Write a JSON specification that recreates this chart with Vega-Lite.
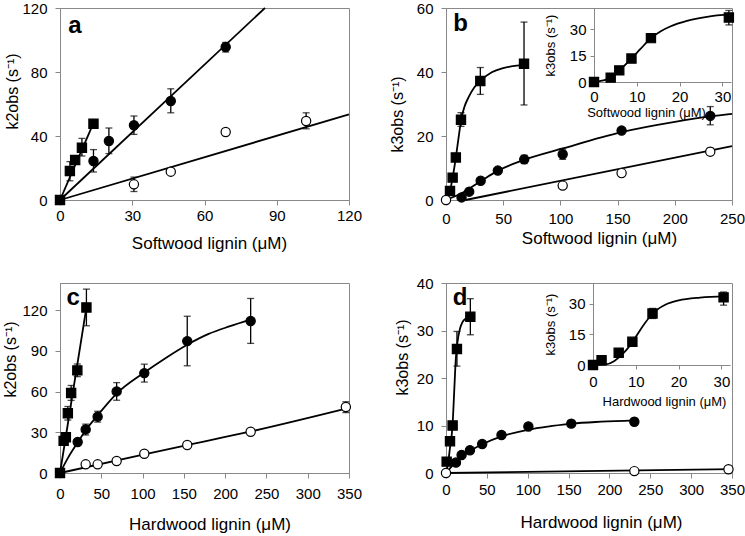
{
"$schema": "https://vega.github.io/schema/vega-lite/v6.json",
"padding": {"left": 1, "top": 0, "right": 0, "bottom": 0},
"background": "white",
"config": {
  "font": "Liberation Sans",
  "view": {"stroke": "#888888", "strokeWidth": 1},
  "axis": {"grid": false, "domainColor": "#888888", "tickColor": "#888888", "tickSize": 5, "labelFontSize": 15, "labelColor": "#000000", "titleFontSize": 17, "titleFontWeight": "normal", "titleColor": "#000000", "labelFlush": false, "labelOverlap": false, "titleBaseline": "middle"},
  "axisY": {"labelPadding": 8, "titleFontSize": 16}
},
"datasets": {
  "pts": [
    {"p":"a","s":"oc","x":30.7,"y":9.8,"lo":5.3,"hi":14.3},
    {"p":"a","s":"oc","x":46,"y":17.7},
    {"p":"a","s":"oc","x":68.8,"y":42.5},
    {"p":"a","s":"oc","x":102.2,"y":49.4,"lo":44.5,"hi":54.5},
    {"p":"a","s":"fc","x":13.9,"y":24.4,"lo":17.5,"hi":31.5},
    {"p":"a","s":"fc","x":20.3,"y":36.9,"lo":29,"hi":45},
    {"p":"a","s":"fc","x":30.7,"y":46.7,"lo":41,"hi":52.5},
    {"p":"a","s":"fc","x":46,"y":61.9,"lo":54.5,"hi":69.5},
    {"p":"a","s":"fc","x":68.8,"y":95.6,"lo":92.5,"hi":98.5},
    {"p":"a","s":"sq","x":0,"y":0},
    {"p":"a","s":"sq","x":4.1,"y":18.1,"lo":12,"hi":24},
    {"p":"a","s":"sq","x":6.3,"y":25},
    {"p":"a","s":"sq","x":9.1,"y":32.7,"lo":27.5,"hi":38.5},
    {"p":"a","s":"sq","x":13.9,"y":47.7},

    {"p":"b","s":"fc","x":13.6,"y":0.8},
    {"p":"b","s":"fc","x":20.3,"y":2.6},
    {"p":"b","s":"fc","x":30.3,"y":6},
    {"p":"b","s":"fc","x":45.3,"y":9.2},
    {"p":"b","s":"fc","x":68.4,"y":12.7,"lo":11.4,"hi":14},
    {"p":"b","s":"fc","x":102,"y":14.3,"lo":12.7,"hi":15.9},
    {"p":"b","s":"fc","x":153.5,"y":21.7},
    {"p":"b","s":"fc","x":231,"y":26.3,"lo":23.5,"hi":29.2},
    {"p":"b","s":"sq","x":3.5,"y":2.8},
    {"p":"b","s":"sq","x":5.8,"y":7},
    {"p":"b","s":"sq","x":8.6,"y":13.3},
    {"p":"b","s":"sq","x":13.1,"y":25.1,"lo":23,"hi":27.3},
    {"p":"b","s":"sq","x":30,"y":37.2,"lo":33,"hi":41.4},
    {"p":"b","s":"sq","x":68.2,"y":42.6,"lo":29.7,"hi":55.6},
    {"p":"b","s":"oc","x":0,"y":0},
    {"p":"b","s":"oc","x":102,"y":4.5},
    {"p":"b","s":"oc","x":153.5,"y":8.4},
    {"p":"b","s":"oc","x":231,"y":15.1,"lo":14,"hi":16.2},

    {"p":"bi","s":"sq","x":0,"y":0},
    {"p":"bi","s":"sq","x":3.9,"y":2.5},
    {"p":"bi","s":"sq","x":5.9,"y":6.6},
    {"p":"bi","s":"sq","x":8.75,"y":13.3},
    {"p":"bi","s":"sq","x":13.3,"y":24.9},
    {"p":"bi","s":"sq","x":31.5,"y":36.6,"lo":32.4,"hi":40.6},

    {"p":"c","s":"oc","x":31.1,"y":6.4},
    {"p":"c","s":"oc","x":45.6,"y":6.4},
    {"p":"c","s":"oc","x":68.6,"y":8.8},
    {"p":"c","s":"oc","x":102.1,"y":14.2},
    {"p":"c","s":"oc","x":154.1,"y":20.6},
    {"p":"c","s":"oc","x":230.9,"y":30.4},
    {"p":"c","s":"oc","x":346.2,"y":48.6,"lo":44.5,"hi":52.5},
    {"p":"c","s":"fc","x":21.4,"y":22.8},
    {"p":"c","s":"fc","x":31.1,"y":32.1,"lo":28,"hi":36},
    {"p":"c","s":"fc","x":45.6,"y":41.5,"lo":37.5,"hi":45.5},
    {"p":"c","s":"fc","x":68.6,"y":60.1,"lo":53.6,"hi":66.6},
    {"p":"c","s":"fc","x":102.1,"y":73.6,"lo":67,"hi":80.2},
    {"p":"c","s":"fc","x":154.1,"y":97.2,"lo":79,"hi":115.5},
    {"p":"c","s":"fc","x":230.9,"y":112,"lo":95.5,"hi":128.6},
    {"p":"c","s":"sq","x":0,"y":0},
    {"p":"c","s":"sq","x":4.4,"y":23.7},
    {"p":"c","s":"sq","x":7.1,"y":26.4},
    {"p":"c","s":"sq","x":9.5,"y":44,"lo":39,"hi":49},
    {"p":"c","s":"sq","x":13.5,"y":59,"lo":53.5,"hi":64.5},
    {"p":"c","s":"sq","x":21,"y":75.6,"lo":71,"hi":80.3},
    {"p":"c","s":"sq","x":32,"y":122,"lo":108.5,"hi":135.5},

    {"p":"d","s":"fc","x":12.2,"y":2.2},
    {"p":"d","s":"fc","x":19.1,"y":3.8},
    {"p":"d","s":"fc","x":29.3,"y":4.8},
    {"p":"d","s":"fc","x":44.3,"y":6.1},
    {"p":"d","s":"fc","x":67.9,"y":8},
    {"p":"d","s":"fc","x":100.8,"y":9.8},
    {"p":"d","s":"fc","x":153.3,"y":10.4,"lo":9.7,"hi":11.1},
    {"p":"d","s":"fc","x":230.5,"y":10.8,"lo":10.1,"hi":11.5},
    {"p":"d","s":"sq","x":0.8,"y":2.4},
    {"p":"d","s":"sq","x":4.9,"y":6.7},
    {"p":"d","s":"sq","x":8.1,"y":10},
    {"p":"d","s":"sq","x":13.4,"y":26.1,"lo":22.5,"hi":29.8},
    {"p":"d","s":"sq","x":29.8,"y":32.9,"lo":29.1,"hi":36.7},
    {"p":"d","s":"oc","x":0,"y":0},
    {"p":"d","s":"oc","x":230.5,"y":0.4},
    {"p":"d","s":"oc","x":345.7,"y":0.8},

    {"p":"di","s":"sq","x":0,"y":0},
    {"p":"di","s":"sq","x":2,"y":2.3},
    {"p":"di","s":"sq","x":6,"y":6},
    {"p":"di","s":"sq","x":9.2,"y":11.3},
    {"p":"di","s":"sq","x":13.9,"y":25.1,"lo":22.7,"hi":27.6},
    {"p":"di","s":"sq","x":30.5,"y":33,"lo":29.2,"hi":35.6}
  ],
  "fit": [
    {"p":"a","s":"sq","x":0,"y":0},{"p":"a","s":"sq","x":13.9,"y":48},
    {"p":"a","s":"fc","x":0,"y":0},{"p":"a","s":"fc","x":85.1,"y":120},
    {"p":"a","s":"oc","x":0,"y":0},{"p":"a","s":"oc","x":120,"y":53.5},

    {"p":"b","s":"sq","x":0,"y":0},{"p":"b","s":"sq","x":3.5,"y":2.8},{"p":"b","s":"sq","x":5.8,"y":7},{"p":"b","s":"sq","x":8.7,"y":13.5},{"p":"b","s":"sq","x":11,"y":19.5},{"p":"b","s":"sq","x":13.5,"y":25.5},{"p":"b","s":"sq","x":16,"y":29},{"p":"b","s":"sq","x":20,"y":32.3},{"p":"b","s":"sq","x":25,"y":35.3},{"p":"b","s":"sq","x":30,"y":37.2},{"p":"b","s":"sq","x":40,"y":39.9},{"p":"b","s":"sq","x":50,"y":41.2},{"p":"b","s":"sq","x":60,"y":41.9},{"p":"b","s":"sq","x":70,"y":42.3},
    {"p":"b","s":"fc","x":0,"y":0},{"p":"b","s":"fc","x":13.6,"y":2.1},{"p":"b","s":"fc","x":30,"y":5.8},{"p":"b","s":"fc","x":45,"y":9.1},{"p":"b","s":"fc","x":68,"y":12.5},{"p":"b","s":"fc","x":102,"y":16.1},{"p":"b","s":"fc","x":153.5,"y":21.2},{"p":"b","s":"fc","x":200,"y":24.4},{"p":"b","s":"fc","x":231,"y":26.1},{"p":"b","s":"fc","x":250,"y":26.9},
    {"p":"b","s":"oc","x":17,"y":0},{"p":"b","s":"oc","x":250,"y":16.8},

    {"p":"bi","s":"sq","x":0,"y":0},{"p":"bi","s":"sq","x":2.2,"y":0.9},{"p":"bi","s":"sq","x":3.9,"y":2.5},{"p":"bi","s":"sq","x":5.9,"y":6.6},{"p":"bi","s":"sq","x":8.75,"y":13.3},{"p":"bi","s":"sq","x":10.8,"y":18.6},{"p":"bi","s":"sq","x":13.3,"y":24.9},{"p":"bi","s":"sq","x":15.5,"y":28.7},{"p":"bi","s":"sq","x":17.8,"y":31.5},{"p":"bi","s":"sq","x":21.7,"y":34.7},{"p":"bi","s":"sq","x":26.4,"y":37},{"p":"bi","s":"sq","x":32,"y":38.5},

    {"p":"c","s":"sq","x":0,"y":0},{"p":"c","s":"sq","x":32,"y":122},
    {"p":"c","s":"fc","x":0,"y":0},{"p":"c","s":"fc","x":10,"y":11.5},{"p":"c","s":"fc","x":21.4,"y":22.5},{"p":"c","s":"fc","x":31.1,"y":31.5},{"p":"c","s":"fc","x":45.6,"y":42.5},{"p":"c","s":"fc","x":68.6,"y":58.5},{"p":"c","s":"fc","x":102.1,"y":74},{"p":"c","s":"fc","x":130,"y":85.5},{"p":"c","s":"fc","x":154.1,"y":94.5},{"p":"c","s":"fc","x":180,"y":102.5},{"p":"c","s":"fc","x":205,"y":108},{"p":"c","s":"fc","x":230.9,"y":113},
    {"p":"c","s":"oc","x":0,"y":0},{"p":"c","s":"oc","x":102.1,"y":13.8},{"p":"c","s":"oc","x":154.1,"y":20.6},{"p":"c","s":"oc","x":230.9,"y":30.6},{"p":"c","s":"oc","x":350,"y":48},

    {"p":"d","s":"sq","x":0,"y":0},{"p":"d","s":"sq","x":2,"y":1.5},{"p":"d","s":"sq","x":5,"y":5.5},{"p":"d","s":"sq","x":8,"y":10},{"p":"d","s":"sq","x":10,"y":17},{"p":"d","s":"sq","x":12,"y":24},{"p":"d","s":"sq","x":14,"y":27.5},{"p":"d","s":"sq","x":17,"y":30.3},{"p":"d","s":"sq","x":20,"y":31.7},{"p":"d","s":"sq","x":25,"y":32.6},{"p":"d","s":"sq","x":30,"y":33.1},
    {"p":"d","s":"fc","x":0,"y":0},{"p":"d","s":"fc","x":10,"y":1.9},{"p":"d","s":"fc","x":20,"y":3.5},{"p":"d","s":"fc","x":30,"y":4.7},{"p":"d","s":"fc","x":45,"y":6.1},{"p":"d","s":"fc","x":68,"y":7.7},{"p":"d","s":"fc","x":100,"y":9.1},{"p":"d","s":"fc","x":130,"y":9.9},{"p":"d","s":"fc","x":154,"y":10.4},{"p":"d","s":"fc","x":190,"y":10.8},{"p":"d","s":"fc","x":231,"y":11.1},
    {"p":"d","s":"oc","x":0,"y":0},{"p":"d","s":"oc","x":350,"y":0.8},

    {"p":"di","s":"sq","x":0,"y":0},{"p":"di","s":"sq","x":3,"y":0.3},{"p":"di","s":"sq","x":5,"y":2},{"p":"di","s":"sq","x":7,"y":5.5},{"p":"di","s":"sq","x":9,"y":10.5},{"p":"di","s":"sq","x":11,"y":17},{"p":"di","s":"sq","x":13,"y":22.8},{"p":"di","s":"sq","x":15,"y":27},{"p":"di","s":"sq","x":17,"y":29.5},{"p":"di","s":"sq","x":20,"y":31.5},{"p":"di","s":"sq","x":25,"y":32.9},{"p":"di","s":"sq","x":31,"y":33.5}
  ]
},
"bounds": "flush",
"columns": 2,
"spacing": {"row": 83, "column": 97},
"concat": [
  {
    "width": 289, "height": 192,
    "layer": [
      {"data": {"name": "fit"}, "transform": [{"filter": "datum.p=='a'"}],
       "mark": {"type": "line", "color": "black", "strokeWidth": 1.8, "interpolate": "monotone"},
       "encoding": {
         "x": {"field": "x", "type": "quantitative", "scale": {"domain": [0, 120], "nice": false}, "axis": {"values": [0, 30, 60, 90, 120], "title": "Softwood lignin (μM)", "titleX": 149, "titleY": 43, "labelPadding": 3}},
         "y": {"field": "y", "type": "quantitative", "scale": {"domain": [0, 120], "nice": false}, "axis": {"values": [0, 40, 80, 120], "title": "k2obs (s⁻¹)", "titleX": -48, "titleY": 83}},
         "detail": {"field": "s"}}},
      {"data": {"name": "pts"}, "transform": [{"filter": "datum.p=='a' && isValid(datum.lo)"}],
       "mark": {"type": "errorbar", "ticks": true, "color": "black", "thickness": 1.3, "size": 7},
       "encoding": {
         "x": {"field": "x", "type": "quantitative", "scale": {"domain": [0, 120], "nice": false}, "axis": {"values": [0, 30, 60, 90, 120], "title": "Softwood lignin (μM)", "titleX": 149, "titleY": 43, "labelPadding": 3}},
         "y": {"field": "lo", "type": "quantitative", "scale": {"domain": [0, 120], "nice": false}, "axis": {"values": [0, 40, 80, 120], "title": "k2obs (s⁻¹)", "titleX": -48, "titleY": 83}},
         "y2": {"field": "hi"}}},
      {"data": {"name": "pts"}, "transform": [{"filter": "datum.p=='a'"}],
       "mark": {"type": "point", "filled": true, "stroke": "black", "strokeWidth": 1.2, "size": 85, "opacity": 1},
       "encoding": {
         "x": {"field": "x", "type": "quantitative", "scale": {"domain": [0, 120], "nice": false}, "axis": {"values": [0, 30, 60, 90, 120], "title": "Softwood lignin (μM)", "titleX": 149, "titleY": 43, "labelPadding": 3}},
         "y": {"field": "y", "type": "quantitative", "scale": {"domain": [0, 120], "nice": false}, "axis": {"values": [0, 40, 80, 120], "title": "k2obs (s⁻¹)", "titleX": -48, "titleY": 83}},
         "shape": {"field": "s", "type": "nominal", "scale": {"domain": ["sq", "fc", "oc"], "range": ["square", "circle", "circle"]}, "legend": null},
         "fill": {"field": "s", "type": "nominal", "scale": {"domain": ["sq", "fc", "oc"], "range": ["#000000", "#000000", "#ffffff"]}, "legend": null}}},
      {"data": {"values": [{}]},
       "mark": {"type": "text", "text": "a", "fontSize": 24, "fontWeight": "bold", "align": "center", "baseline": "middle", "color": "black"},
       "encoding": {
         "x": {"datum": 6.2, "type": "quantitative", "scale": {"domain": [0, 120], "nice": false}},
         "y": {"datum": 108.8, "type": "quantitative", "scale": {"domain": [0, 120], "nice": false}}}}
    ]
  },
  {
    "width": 286, "height": 192,
    "resolve": {"scale": {"x": "independent", "y": "independent"}, "axis": {"x": "independent", "y": "independent"}},
    "layer": [
      {"layer": [
        {"data": {"name": "fit"}, "transform": [{"filter": "datum.p=='b'"}],
         "mark": {"type": "line", "color": "black", "strokeWidth": 1.8, "interpolate": "monotone"},
         "encoding": {
           "x": {"field": "x", "type": "quantitative", "scale": {"domain": [0, 250], "nice": false}, "axis": {"orient": "bottom", "values": [0, 50, 100, 150, 200, 250], "title": "Softwood lignin (μM)", "titleX": 153, "titleY": 38, "labelPadding": 6}},
           "y": {"field": "y", "type": "quantitative", "scale": {"domain": [0, 60], "nice": false}, "axis": {"orient": "left", "values": [0, 20, 40, 60], "title": "k3obs (s⁻¹)", "titleX": -49, "titleY": 106}},
           "detail": {"field": "s"}}},
        {"data": {"name": "pts"}, "transform": [{"filter": "datum.p=='b' && isValid(datum.lo)"}],
         "mark": {"type": "errorbar", "ticks": true, "color": "black", "thickness": 1.3, "size": 7},
         "encoding": {
           "x": {"field": "x", "type": "quantitative", "scale": {"domain": [0, 250], "nice": false}, "axis": {"orient": "bottom", "values": [0, 50, 100, 150, 200, 250], "title": "Softwood lignin (μM)", "titleX": 153, "titleY": 38, "labelPadding": 6}},
           "y": {"field": "lo", "type": "quantitative", "scale": {"domain": [0, 60], "nice": false}, "axis": {"orient": "left", "values": [0, 20, 40, 60], "title": "k3obs (s⁻¹)", "titleX": -49, "titleY": 106}},
           "y2": {"field": "hi"}}},
        {"data": {"name": "pts"}, "transform": [{"filter": "datum.p=='b'"}],
         "mark": {"type": "point", "filled": true, "stroke": "black", "strokeWidth": 1.2, "size": 85, "opacity": 1},
         "encoding": {
           "x": {"field": "x", "type": "quantitative", "scale": {"domain": [0, 250], "nice": false}, "axis": {"orient": "bottom", "values": [0, 50, 100, 150, 200, 250], "title": "Softwood lignin (μM)", "titleX": 153, "titleY": 38, "labelPadding": 6}},
           "y": {"field": "y", "type": "quantitative", "scale": {"domain": [0, 60], "nice": false}, "axis": {"orient": "left", "values": [0, 20, 40, 60], "title": "k3obs (s⁻¹)", "titleX": -49, "titleY": 106}},
           "shape": {"field": "s", "type": "nominal", "scale": {"domain": ["sq", "fc", "oc"], "range": ["square", "circle", "circle"]}, "legend": null},
           "fill": {"field": "s", "type": "nominal", "scale": {"domain": ["sq", "fc", "oc"], "range": ["#000000", "#000000", "#ffffff"]}, "legend": null}}},
        {"data": {"values": [{}]},
         "mark": {"type": "text", "text": "b", "fontSize": 24, "fontWeight": "bold", "align": "center", "baseline": "middle", "color": "black"},
         "encoding": {
           "x": {"datum": 12.8, "type": "quantitative", "scale": {"domain": [0, 250], "nice": false}},
           "y": {"datum": 55.1, "type": "quantitative", "scale": {"domain": [0, 60], "nice": false}}}}
      ]},
      {"layer": [
        {"data": {"name": "fit"}, "transform": [{"filter": "datum.p=='bi'"}],
         "mark": {"type": "line", "color": "black", "strokeWidth": 1.8, "interpolate": "monotone"},
         "encoding": {
           "x": {"field": "x", "type": "quantitative", "scale": {"domain": [0, 32], "nice": false, "range": [148, 285]}, "axis": {"orient": "bottom", "offset": -118, "values": [0, 10, 20, 30], "title": "Softwood lignin (μM)", "titleFontSize": 13, "titleX": 200, "titleY": 30, "labelPadding": 3, "tickSize": 4}},
           "y": {"field": "y", "type": "quantitative", "scale": {"domain": [0, 42], "nice": false, "range": [74, 0]}, "axis": {"orient": "left", "offset": -148, "values": [0, 15, 30], "title": "k3obs (s⁻¹)", "titleFontSize": 13, "titleX": -44, "labelPadding": 4, "tickSize": 4}},
           "detail": {"field": "s"}}},
        {"data": {"name": "pts"}, "transform": [{"filter": "datum.p=='bi' && isValid(datum.lo)"}],
         "mark": {"type": "errorbar", "ticks": true, "color": "black", "thickness": 1.3, "size": 7},
         "encoding": {
           "x": {"field": "x", "type": "quantitative", "scale": {"domain": [0, 32], "nice": false, "range": [148, 285]}, "axis": {"orient": "bottom", "offset": -118, "values": [0, 10, 20, 30], "title": "Softwood lignin (μM)", "titleFontSize": 13, "titleX": 200, "titleY": 30, "labelPadding": 3, "tickSize": 4}},
           "y": {"field": "lo", "type": "quantitative", "scale": {"domain": [0, 42], "nice": false, "range": [74, 0]}, "axis": {"orient": "left", "offset": -148, "values": [0, 15, 30], "title": "k3obs (s⁻¹)", "titleFontSize": 13, "titleX": -44, "labelPadding": 4, "tickSize": 4}},
           "y2": {"field": "hi"}}},
        {"data": {"name": "pts"}, "transform": [{"filter": "datum.p=='bi'"}],
         "mark": {"type": "point", "filled": true, "stroke": "black", "strokeWidth": 1.2, "size": 85, "opacity": 1},
         "encoding": {
           "x": {"field": "x", "type": "quantitative", "scale": {"domain": [0, 32], "nice": false, "range": [148, 285]}, "axis": {"orient": "bottom", "offset": -118, "values": [0, 10, 20, 30], "title": "Softwood lignin (μM)", "titleFontSize": 13, "titleX": 200, "titleY": 30, "labelPadding": 3, "tickSize": 4}},
           "y": {"field": "y", "type": "quantitative", "scale": {"domain": [0, 42], "nice": false, "range": [74, 0]}, "axis": {"orient": "left", "offset": -148, "values": [0, 15, 30], "title": "k3obs (s⁻¹)", "titleFontSize": 13, "titleX": -44, "labelPadding": 4, "tickSize": 4}},
           "shape": {"field": "s", "type": "nominal", "scale": {"domain": ["sq", "fc", "oc"], "range": ["square", "circle", "circle"]}, "legend": null},
           "fill": {"field": "s", "type": "nominal", "scale": {"domain": ["sq", "fc", "oc"], "range": ["#000000", "#000000", "#ffffff"]}, "legend": null}}}
      ]}
    ]
  },
  {
    "width": 289, "height": 190,
    "layer": [
      {"data": {"name": "fit"}, "transform": [{"filter": "datum.p=='c'"}],
       "mark": {"type": "line", "color": "black", "strokeWidth": 1.8, "interpolate": "monotone"},
       "encoding": {
         "x": {"field": "x", "type": "quantitative", "scale": {"domain": [0, 350], "nice": false}, "axis": {"values": [0, 50, 100, 150, 200, 250, 300, 350], "title": "Hardwood lignin (μM)", "titleX": 149.5, "titleY": 51, "labelPadding": 8}},
         "y": {"field": "y", "type": "quantitative", "scale": {"domain": [0, 140], "nice": false}, "axis": {"values": [0, 30, 60, 90, 120], "title": "k2obs (s⁻¹)", "titleX": -50, "titleY": 76}},
         "detail": {"field": "s"}}},
      {"data": {"name": "pts"}, "transform": [{"filter": "datum.p=='c' && isValid(datum.lo)"}],
       "mark": {"type": "errorbar", "ticks": true, "color": "black", "thickness": 1.3, "size": 7},
       "encoding": {
         "x": {"field": "x", "type": "quantitative", "scale": {"domain": [0, 350], "nice": false}, "axis": {"values": [0, 50, 100, 150, 200, 250, 300, 350], "title": "Hardwood lignin (μM)", "titleX": 149.5, "titleY": 51, "labelPadding": 8}},
         "y": {"field": "lo", "type": "quantitative", "scale": {"domain": [0, 140], "nice": false}, "axis": {"values": [0, 30, 60, 90, 120], "title": "k2obs (s⁻¹)", "titleX": -50, "titleY": 76}},
         "y2": {"field": "hi"}}},
      {"data": {"name": "pts"}, "transform": [{"filter": "datum.p=='c'"}],
       "mark": {"type": "point", "filled": true, "stroke": "black", "strokeWidth": 1.2, "size": 85, "opacity": 1},
       "encoding": {
         "x": {"field": "x", "type": "quantitative", "scale": {"domain": [0, 350], "nice": false}, "axis": {"values": [0, 50, 100, 150, 200, 250, 300, 350], "title": "Hardwood lignin (μM)", "titleX": 149.5, "titleY": 51, "labelPadding": 8}},
         "y": {"field": "y", "type": "quantitative", "scale": {"domain": [0, 140], "nice": false}, "axis": {"values": [0, 30, 60, 90, 120], "title": "k2obs (s⁻¹)", "titleX": -50, "titleY": 76}},
         "shape": {"field": "s", "type": "nominal", "scale": {"domain": ["sq", "fc", "oc"], "range": ["square", "circle", "circle"]}, "legend": null},
         "fill": {"field": "s", "type": "nominal", "scale": {"domain": ["sq", "fc", "oc"], "range": ["#000000", "#000000", "#ffffff"]}, "legend": null}}},
      {"data": {"values": [{}]},
       "mark": {"type": "text", "text": "c", "fontSize": 24, "fontWeight": "bold", "align": "center", "baseline": "middle", "color": "black"},
       "encoding": {
         "x": {"datum": 16.1, "type": "quantitative", "scale": {"domain": [0, 350], "nice": false}},
         "y": {"datum": 128.6, "type": "quantitative", "scale": {"domain": [0, 140], "nice": false}}}}
    ]
  },
  {
    "width": 286, "height": 190,
    "resolve": {"scale": {"x": "independent", "y": "independent"}, "axis": {"x": "independent", "y": "independent"}},
    "layer": [
      {"layer": [
        {"data": {"name": "fit"}, "transform": [{"filter": "datum.p=='d'"}],
         "mark": {"type": "line", "color": "black", "strokeWidth": 1.8, "interpolate": "monotone"},
         "encoding": {
           "x": {"field": "x", "type": "quantitative", "scale": {"domain": [0, 350], "nice": false}, "axis": {"orient": "bottom", "values": [0, 50, 100, 150, 200, 250, 300, 350], "title": "Hardwood lignin (μM)", "titleX": 155, "titleY": 49, "labelPadding": 4.5}},
           "y": {"field": "y", "type": "quantitative", "scale": {"domain": [0, 40], "nice": false}, "axis": {"orient": "left", "values": [0, 10, 20, 30, 40], "title": "k3obs (s⁻¹)", "titleX": -44, "titleY": 74}},
           "detail": {"field": "s"}}},
        {"data": {"name": "pts"}, "transform": [{"filter": "datum.p=='d' && isValid(datum.lo)"}],
         "mark": {"type": "errorbar", "ticks": true, "color": "black", "thickness": 1.3, "size": 7},
         "encoding": {
           "x": {"field": "x", "type": "quantitative", "scale": {"domain": [0, 350], "nice": false}, "axis": {"orient": "bottom", "values": [0, 50, 100, 150, 200, 250, 300, 350], "title": "Hardwood lignin (μM)", "titleX": 155, "titleY": 49, "labelPadding": 4.5}},
           "y": {"field": "lo", "type": "quantitative", "scale": {"domain": [0, 40], "nice": false}, "axis": {"orient": "left", "values": [0, 10, 20, 30, 40], "title": "k3obs (s⁻¹)", "titleX": -44, "titleY": 74}},
           "y2": {"field": "hi"}}},
        {"data": {"name": "pts"}, "transform": [{"filter": "datum.p=='d'"}],
         "mark": {"type": "point", "filled": true, "stroke": "black", "strokeWidth": 1.2, "size": 85, "opacity": 1},
         "encoding": {
           "x": {"field": "x", "type": "quantitative", "scale": {"domain": [0, 350], "nice": false}, "axis": {"orient": "bottom", "values": [0, 50, 100, 150, 200, 250, 300, 350], "title": "Hardwood lignin (μM)", "titleX": 155, "titleY": 49, "labelPadding": 4.5}},
           "y": {"field": "y", "type": "quantitative", "scale": {"domain": [0, 40], "nice": false}, "axis": {"orient": "left", "values": [0, 10, 20, 30, 40], "title": "k3obs (s⁻¹)", "titleX": -44, "titleY": 74}},
           "shape": {"field": "s", "type": "nominal", "scale": {"domain": ["sq", "fc", "oc"], "range": ["square", "circle", "circle"]}, "legend": null},
           "fill": {"field": "s", "type": "nominal", "scale": {"domain": ["sq", "fc", "oc"], "range": ["#000000", "#000000", "#ffffff"]}, "legend": null}}},
        {"data": {"values": [{}]},
         "mark": {"type": "text", "text": "d", "fontSize": 24, "fontWeight": "bold", "align": "center", "baseline": "middle", "color": "black"},
         "encoding": {
           "x": {"datum": 17.1, "type": "quantitative", "scale": {"domain": [0, 350], "nice": false}},
           "y": {"datum": 36.8, "type": "quantitative", "scale": {"domain": [0, 40], "nice": false}}}}
      ]},
      {"layer": [
        {"data": {"name": "fit"}, "transform": [{"filter": "datum.p=='di'"}],
         "mark": {"type": "line", "color": "black", "strokeWidth": 1.8, "interpolate": "monotone"},
         "encoding": {
           "x": {"field": "x", "type": "quantitative", "scale": {"domain": [0, 32], "nice": false, "range": [147, 284]}, "axis": {"orient": "bottom", "offset": -108, "values": [0, 10, 20, 30], "title": "Hardwood lignin (μM)", "titleFontSize": 13, "titleX": 218, "titleY": 36, "labelPadding": 5, "tickSize": 4}},
           "y": {"field": "y", "type": "quantitative", "scale": {"domain": [0, 40], "nice": false, "range": [82, 0]}, "axis": {"orient": "left", "offset": -147, "values": [0, 15, 30], "title": "k3obs (s⁻¹)", "titleFontSize": 13, "titleX": -43, "labelPadding": 4, "tickSize": 4}},
           "detail": {"field": "s"}}},
        {"data": {"name": "pts"}, "transform": [{"filter": "datum.p=='di' && isValid(datum.lo)"}],
         "mark": {"type": "errorbar", "ticks": true, "color": "black", "thickness": 1.3, "size": 7},
         "encoding": {
           "x": {"field": "x", "type": "quantitative", "scale": {"domain": [0, 32], "nice": false, "range": [147, 284]}, "axis": {"orient": "bottom", "offset": -108, "values": [0, 10, 20, 30], "title": "Hardwood lignin (μM)", "titleFontSize": 13, "titleX": 218, "titleY": 36, "labelPadding": 5, "tickSize": 4}},
           "y": {"field": "lo", "type": "quantitative", "scale": {"domain": [0, 40], "nice": false, "range": [82, 0]}, "axis": {"orient": "left", "offset": -147, "values": [0, 15, 30], "title": "k3obs (s⁻¹)", "titleFontSize": 13, "titleX": -43, "labelPadding": 4, "tickSize": 4}},
           "y2": {"field": "hi"}}},
        {"data": {"name": "pts"}, "transform": [{"filter": "datum.p=='di'"}],
         "mark": {"type": "point", "filled": true, "stroke": "black", "strokeWidth": 1.2, "size": 85, "opacity": 1},
         "encoding": {
           "x": {"field": "x", "type": "quantitative", "scale": {"domain": [0, 32], "nice": false, "range": [147, 284]}, "axis": {"orient": "bottom", "offset": -108, "values": [0, 10, 20, 30], "title": "Hardwood lignin (μM)", "titleFontSize": 13, "titleX": 218, "titleY": 36, "labelPadding": 5, "tickSize": 4}},
           "y": {"field": "y", "type": "quantitative", "scale": {"domain": [0, 40], "nice": false, "range": [82, 0]}, "axis": {"orient": "left", "offset": -147, "values": [0, 15, 30], "title": "k3obs (s⁻¹)", "titleFontSize": 13, "titleX": -43, "labelPadding": 4, "tickSize": 4}},
           "shape": {"field": "s", "type": "nominal", "scale": {"domain": ["sq", "fc", "oc"], "range": ["square", "circle", "circle"]}, "legend": null},
           "fill": {"field": "s", "type": "nominal", "scale": {"domain": ["sq", "fc", "oc"], "range": ["#000000", "#000000", "#ffffff"]}, "legend": null}}}
      ]}
    ]
  }
]
}
